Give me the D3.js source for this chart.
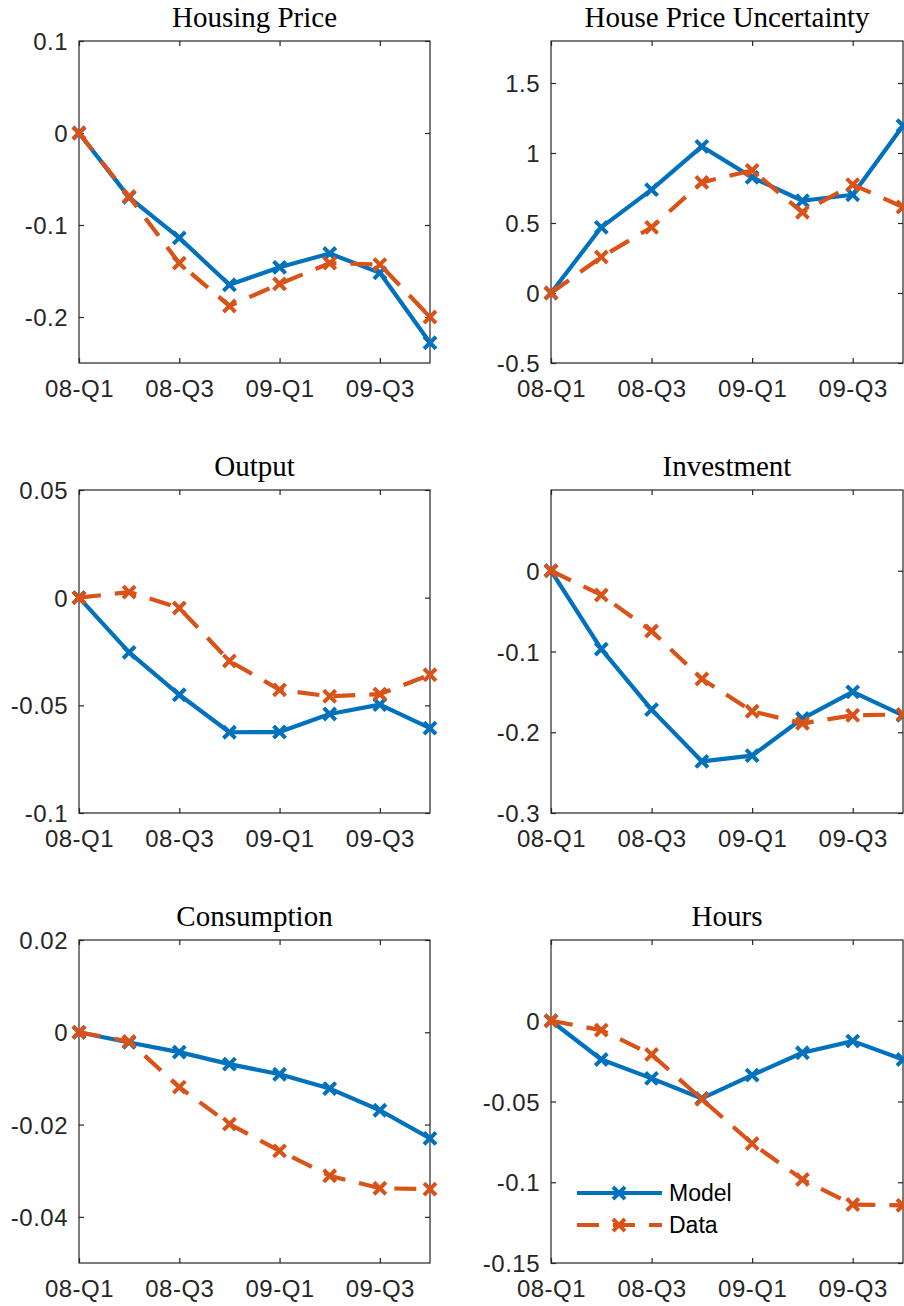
<!DOCTYPE html>
<html>
<head>
<meta charset="utf-8">
<script src="https://cdn.jsdelivr.net/npm/d3@7"></script>
<style>
  html, body { margin: 0; padding: 0; background: #fff; }
  svg { display: block; }
</style>
</head>
<body>
<svg id="chart" width="904" height="1306"></svg>
<script>
// Quarters on the horizontal axis (index 1..8)
const quarters = ["08-Q1", "08-Q2", "08-Q3", "08-Q4", "09-Q1", "09-Q2", "09-Q3", "09-Q4"];
const xTickIndex = [1, 3, 5, 7];

// Panel titles
const titles = ["Housing Price", "House Price Uncertainty", "Output", "Investment", "Consumption", "Hours"];

// Model responses
const housingModel     = [0, -0.070, -0.114, -0.165, -0.146, -0.131, -0.152, -0.228];
const uncertaintyModel = [0, 0.469, 0.738, 1.047, 0.826, 0.659, 0.702, 1.195];
const outputModel      = [0, -0.0254, -0.0451, -0.0625, -0.0624, -0.0540, -0.0497, -0.0606];
const investmentModel  = [0, -0.097, -0.172, -0.236, -0.229, -0.183, -0.150, -0.179];
const consumptionModel = [0, -0.0022, -0.0043, -0.0069, -0.0091, -0.0122, -0.0169, -0.0230];
const hoursModel       = [0, -0.0240, -0.0357, -0.0481, -0.0337, -0.0198, -0.0126, -0.0240];

// Observed data
const housingData      = [0, -0.069, -0.1415, -0.188, -0.164, -0.1415, -0.143, -0.200];
const uncertaintyData  = [0, 0.257, 0.469, 0.790, 0.876, 0.576, 0.774, 0.614];
const outputData       = [0, 0.0026, -0.0048, -0.0294, -0.0428, -0.0458, -0.0448, -0.0358];
const investmentData   = [0, -0.030, -0.0746, -0.134, -0.174, -0.189, -0.179, -0.178];
const consumptionData  = [0, -0.0020, -0.0119, -0.0199, -0.0257, -0.0311, -0.0338, -0.0340];
const hoursData        = [0, -0.0058, -0.0209, -0.0486, -0.0760, -0.0983, -0.1138, -0.1143];

// Vertical axis limits and tick values per panel
const yDomains = [[-0.25, 0.1], [-0.5, 1.8], [-0.1, 0.05], [-0.3, 0.1], [-0.05, 0.02], [-0.15, 0.05]];
const yTicks = [
  [-0.2, -0.1, 0, 0.1],
  [-0.5, 0, 0.5, 1, 1.5],
  [-0.1, -0.05, 0, 0.05],
  [-0.3, -0.2, -0.1, 0],
  [-0.04, -0.02, 0, 0.02],
  [-0.15, -0.1, -0.05, 0]
];

const seriesNames = ["Model", "Data"];
const modelSeries = [housingModel, uncertaintyModel, outputModel, investmentModel, consumptionModel, hoursModel];
const dataSeries  = [housingData, uncertaintyData, outputData, investmentData, consumptionData, hoursData];

// Layout
const colX = [[79, 430], [551, 903]];
const rowY = [[41, 363], [490, 813], [940, 1263]];
const blue = "#0072BD", orange = "#D95319", axisColor = "#262626";
const sansFont = "'Liberation Sans', Arial, Helvetica, sans-serif";
const serifFont = "'Liberation Serif', 'Times New Roman', serif";
const lineW = 4.2;
const dash = "22,14";

const svg = d3.select("#chart");

function drawMarkers(g, pts, color) {
  const s = 4.6;
  g.selectAll(null).data(pts).enter().append("path")
    .attr("d", d => `M${d[0]-s},${d[1]-s}L${d[0]+s},${d[1]+s}M${d[0]-s},${d[1]+s}L${d[0]+s},${d[1]-s}`)
    .attr("stroke", color).attr("stroke-width", 4).attr("fill", "none")
    .attr("stroke-linecap", "square");
}

titles.forEach((title, i) => {
  const col = i % 2, row = Math.floor(i / 2);
  const [x0, x1] = colX[col];
  const [y0, y1] = rowY[row];
  const x = d3.scaleLinear().domain([1, 8]).range([x0, x1]);
  const y = d3.scaleLinear().domain(yDomains[i]).range([y1, y0]);
  const g = svg.append("g");

  // Axes box
  g.append("rect").attr("x", x0).attr("y", y0).attr("width", x1 - x0).attr("height", y1 - y0)
    .attr("fill", "none").attr("stroke", axisColor).attr("stroke-width", 1.2);

  // Bottom axis with labels, top axis as mirrored ticks
  const xb = d3.axisBottom(x).tickValues(xTickIndex).tickSize(-5).tickPadding(17)
    .tickFormat(d => quarters[d - 1]);
  const gx = g.append("g").attr("transform", `translate(0,${y1})`).call(xb);
  const xt = d3.axisTop(x).tickValues(xTickIndex).tickSize(-5).tickFormat("");
  const gxt = g.append("g").attr("transform", `translate(0,${y0})`).call(xt);

  // Left axis with labels, right axis as mirrored ticks
  const yl = d3.axisLeft(y).tickValues(yTicks[i]).tickSize(-5).tickPadding(11)
    .tickFormat(d => String(d));
  const gy = g.append("g").attr("transform", `translate(${x0},0)`).call(yl);
  const yr = d3.axisRight(y).tickValues(yTicks[i]).tickSize(-5).tickFormat("");
  const gyr = g.append("g").attr("transform", `translate(${x1},0)`).call(yr);

  [gx, gxt, gy, gyr].forEach(a => {
    a.select(".domain").remove();
    a.selectAll(".tick line").attr("stroke", axisColor).attr("stroke-width", 1.2);
    a.selectAll(".tick text").attr("fill", axisColor)
      .style("font-family", sansFont).style("font-size", "24px").style("letter-spacing", "0.5px");
  });
  gx.selectAll(".tick text").attr("dy", "0.71em");
  gy.selectAll(".tick text").attr("dy", "0.36em");

  // Title
  g.append("text").attr("x", (x0 + x1) / 2).attr("y", y0 - 14)
    .attr("text-anchor", "middle").attr("fill", "#000")
    .style("font-family", serifFont).style("font-size", "29px")
    .text(title);

  const line = d3.line().x((d, k) => x(k + 1)).y(d => y(d));

  // Model: solid blue
  g.append("path").attr("d", line(modelSeries[i])).attr("fill", "none")
    .attr("stroke", blue).attr("stroke-width", lineW).attr("stroke-linejoin", "round");
  drawMarkers(g, modelSeries[i].map((v, k) => [x(k + 1), y(v)]), blue);

  // Data: dashed orange
  g.append("path").attr("d", line(dataSeries[i])).attr("fill", "none")
    .attr("stroke", orange).attr("stroke-width", lineW).attr("stroke-dasharray", dash);
  drawMarkers(g, dataSeries[i].map((v, k) => [x(k + 1), y(v)]), orange);
});

// Legend inside the Hours panel
const legend = svg.append("g");
const legendRows = [
  { name: seriesNames[0], color: blue, dashed: false, y: 1193 },
  { name: seriesNames[1], color: orange, dashed: true, y: 1225 }
];
legendRows.forEach(r => {
  legend.append("line").attr("x1", 577).attr("x2", 662).attr("y1", r.y).attr("y2", r.y)
    .attr("stroke", r.color).attr("stroke-width", lineW)
    .attr("stroke-dasharray", r.dashed ? dash : null);
  drawMarkers(legend, [[619, r.y]], r.color);
  legend.append("text").attr("x", 669).attr("y", r.y).attr("dy", "0.36em")
    .attr("fill", "#000").style("font-family", sansFont).style("font-size", "23px")
    .text(r.name);
});
</script>
</body>
</html>
